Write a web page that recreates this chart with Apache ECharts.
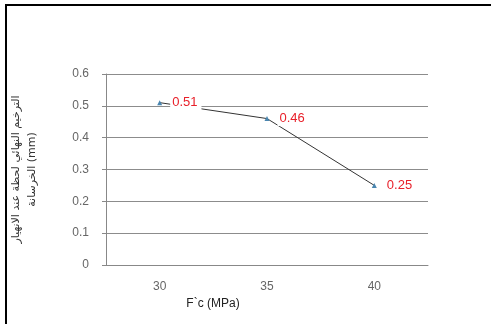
<!DOCTYPE html>
<html>
<head>
<meta charset="utf-8">
<script src="https://cdn.jsdelivr.net/npm/echarts@6/dist/echarts.min.js"></script>
<style>
  body { margin: 0; background: #fff; }
  #wrap { position: relative; width: 491px; height: 324px; }
  #frame { position: absolute; left: 5px; top: 4px; right: 0; bottom: 0;
           border-left: 2px solid #000; border-top: 2px solid #000; }
  #chart { position: absolute; left: 0; top: 0; width: 491px; height: 324px; }
</style>
</head>
<body>
<div id="wrap">
  <div id="frame"></div>
  <div id="chart"></div>
</div>
<script>
const strengths = ["30", "35", "40"];
const deflection = [0.51, 0.46, 0.25];
const yTicks = { min: 0, max: 0.6, step: 0.1 };

const chartDom = document.getElementById("chart");
const myChart = echarts.init(chartDom);

const option = {
  animation: false,
  grid: { left: 106, right: 63, top: 74, bottom: 59 },
  xAxis: {
    type: "category",
    data: strengths,
    boundaryGap: true,
    name: "F`c (MPa)",
    nameLocation: "middle",
    nameGap: 31,
    nameTextStyle: {
      fontFamily: "Liberation Sans",
      fontSize: 12,
      color: "#222",
      padding: [0, 108, 0, 0],
    },
    axisLine: { lineStyle: { color: "#888", width: 1 } },
    axisTick: { alignWithLabel: false, length: 5, lineStyle: { color: "#888" } },
    axisLabel: {
      margin: 16,
      fontFamily: "Liberation Sans",
      fontSize: 12,
      color: "#666",
    },
  },
  yAxis: {
    type: "value",
    min: yTicks.min,
    max: yTicks.max,
    interval: yTicks.step,
    name: "الترخيم النهائي لحظة عند الانهيار\nالخرسانة (mm)",
    nameLocation: "middle",
    nameRotate: 90,
    nameGap: 66,
    nameTextStyle: {
      fontFamily: "DejaVu Sans",
      fontSize: 11,
      color: "#333",
      lineHeight: 16,
    },
    axisLine: { show: true, lineStyle: { color: "#888", width: 1 } },
    axisTick: { show: true, length: 4, lineStyle: { color: "#888" } },
    axisLabel: {
      margin: 17,
      fontFamily: "Liberation Sans",
      fontSize: 12,
      color: "#666",
      formatter: (v) => (v === 0 ? "0" : v.toFixed(1)),
    },
    splitLine: { lineStyle: { color: "#8c8c8c", width: 1 } },
  },
  series: [
    {
      type: "line",
      data: deflection,
      symbol: "triangle",
      symbolSize: 5,
      itemStyle: { color: "#4a86b0" },
      lineStyle: { color: "#333", width: 1 },
      label: {
        show: true,
        position: "right",
        distance: 8,
        fontFamily: "Liberation Sans",
        fontSize: 13,
        color: "#e8202a",
        backgroundColor: "#fff",
        padding: [1, 4, 1, 2],
        formatter: (p) => p.value.toFixed(2),
      },
    },
  ],
};

myChart.setOption(option);

window.addEventListener("resize", function () {
  myChart.resize();
});
</script>
</body>
</html>
